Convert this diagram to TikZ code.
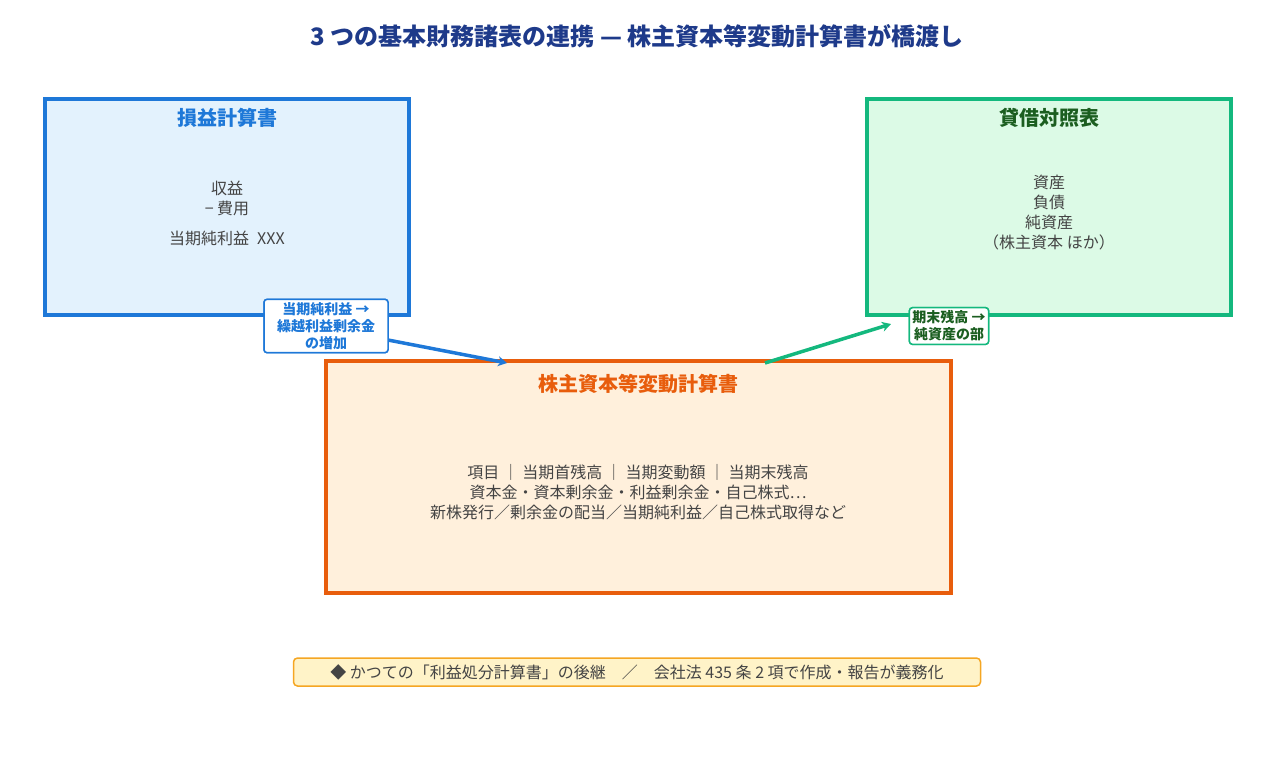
\documentclass[tikz,border=0pt]{standalone}
\usepackage{fontspec}
\usetikzlibrary{arrows.meta}
\setmainfont{Noto Sans CJK JP}
\definecolor{ttl}{HTML}{1E3A8A}
\definecolor{bl}{HTML}{1E78D8}
\definecolor{blf}{HTML}{E3F2FD}
\definecolor{gr}{HTML}{14B87E}
\definecolor{grf}{HTML}{DCFAE6}
\definecolor{grt}{HTML}{1B5E20}
\definecolor{org}{HTML}{E85D0C}
\definecolor{orf}{HTML}{FFF0DC}
\definecolor{txt}{HTML}{444444}
\definecolor{nf}{HTML}{FFF3C8}
\definecolor{nb}{HTML}{F5A623}
\begin{document}
\begin{tikzpicture}[x=1pt,y=-1pt,
  panel/.style={line width=3.5pt},
  ptitle/.style={font=\fontsize{20}{22}\selectfont\bfseries},
  body/.style={text=txt,font=\fontsize{16}{20}\selectfont,align=center},
  lab/.style={draw,line width=1.5pt,rounded corners=3pt,fill=white,font=\fontsize{14}{17}\selectfont\bfseries,align=center,inner sep=3pt},
  arr/.style={line width=3.5pt,-{Stealth[length=9pt,width=10pt]}}]
\useasboundingbox (0,0) rectangle (1275,761);
\node[text=ttl,font=\fontsize{24}{28}\selectfont\bfseries] (title) at (637,36) {3 つの基本財務諸表の連携 — 株主資本等変動計算書が橋渡し};
\draw[panel,draw=bl,fill=blf] (45,99) rectangle (409,315);
\node[ptitle,text=bl] (pl) at (227,118) {損益計算書};
\node[body] (plb) at (227,213) {収益\\− 費用\\[10pt]当期純利益\enspace XXX};
\draw[panel,draw=gr,fill=grf] (867,99) rectangle (1231,315);
\node[ptitle,text=grt] (bs) at (1049,118) {貸借対照表};
\node[body] (bsb) at (1049,213) {資産\\負債\\純資産\\（株主資本 ほか）};
\draw[panel,draw=org,fill=orf] (326,361) rectangle (951,593);
\node[ptitle,text=org] (ss) at (638,384) {株主資本等変動計算書};
\node[body] (ssb) at (638,492) {項目 ｜ 当期首残高 ｜ 当期変動額 ｜ 当期末残高\\資本金・資本剰余金・利益剰余金・自己株式…\\新株発行／剰余金の配当／当期純利益／自己株式取得など};
\node[lab,draw=bl,text=bl,minimum width=124pt] (l1) at (326,326) {当期純利益 →\\繰越利益剰余金\\の増加};
\node[lab,draw=gr,text=grt] (l2) at (949,326) {期末残高 →\\純資産の部};
\coordinate (a1s) at (388,340);
\coordinate (a1e) at (507,363);
\coordinate (a2s) at (765,363);
\coordinate (a2e) at (891,324);
\begin{scope}[on background layer/.style={}]
\end{scope}
\draw[arr,bl] (a1s) -- (a1e);
\draw[arr,gr] (a2s) -- (a2e);
\node[lab,draw=bl,text=bl,minimum width=124pt] at (326,326) {当期純利益 →\\繰越利益剰余金\\の増加};
\node[lab,draw=gr,text=grt] at (949,326) {期末残高 →\\純資産の部};
\node[draw=nb,line width=1.5pt,fill=nf,rounded corners=4pt,text=txt,font=\fontsize{16}{18}\selectfont,minimum width=687pt,minimum height=28pt,inner sep=2pt] (note) at (637,672) {◆ かつての「利益処分計算書」の後継\quad ／\quad 会社法 435 条 2 項で作成・報告が義務化};
\end{tikzpicture}
\end{document}
